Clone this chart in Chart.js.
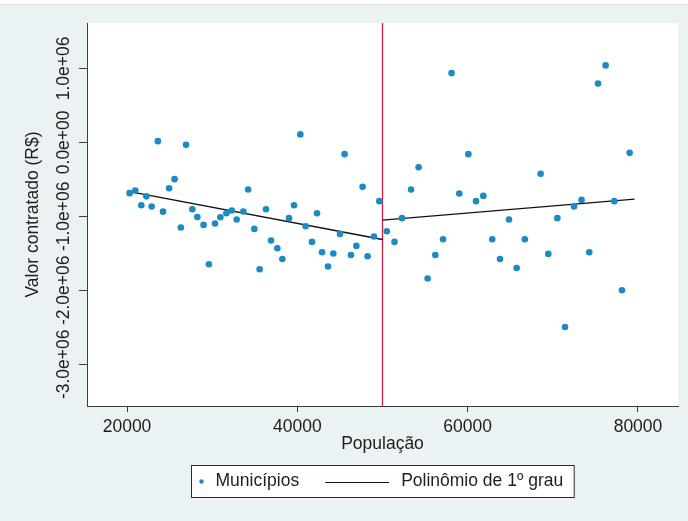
<!DOCTYPE html>
<html>
<head>
<meta charset="utf-8">
<script src="https://cdn.jsdelivr.net/npm/chart.js@4/dist/chart.umd.min.js"></script>
<style>
  html, body { margin: 0; padding: 0; background: #eaf2f3; overflow: hidden; }
  canvas { display: block; }
</style>
</head>
<body>
<canvas id="c" width="688" height="521"></canvas>
<script>
// Municipalities below the 50 000 inhabitant threshold
const popLeft = [20300, 20970, 21680, 22270, 22890, 23620, 24230, 24940, 25580, 26320,
  26930, 27670, 28260, 28990, 29610, 30330, 30960, 31670, 32310, 32870,
  33660, 34220, 34950, 35570, 36320, 36910, 37650, 38240, 39020, 39610,
  40350, 40970, 41720, 42310, 42900, 43600, 44220, 45010, 45550, 46300,
  46930, 47660, 48250, 49000, 49630];
const valLeft = [-687000, -651000, -850000, -730000, -867000, 16000, -937000, -620000, -498000, -1151000,
  -34000, -904000, -1009000, -1116000, -1648000, -1097000, -1012000, -958000, -921000, -1043000,
  -935000, -637000, -1170000, -1715000, -904000, -1327000, -1431000, -1576000, -1025000, -850000,
  107000, -1134000, -1346000, -958000, -1485000, -1679000, -1503000, -1238000, -160000, -1522000,
  -1400000, -602000, -1540000, -1273000, -795000];

// Municipalities above the threshold
const popRight = [50510, 51410, 52290, 53350, 54240, 55300, 56200, 57110, 58110, 59020,
  60080, 60980, 61840, 62890, 63800, 64850, 65750, 66710, 68570, 69470,
  70530, 71430, 72490, 73370, 74280, 75310, 76200, 77220, 78120, 79020];
const valRight = [-1201000, -1346000, -1025000, -637000, -336000, -1841000, -1522000, -1310000, 936000, -691000,
  -160000, -795000, -724000, -1310000, -1576000, -1043000, -1698000, -1310000, -426000, -1508000,
  -1025000, -2496000, -867000, -778000, -1485000, 794000, 1040000, -795000, -1999000, -142000];

// Linear fits on each side of the threshold (end points)
const fitLeftX = [20000, 50000];
const fitLeftY = [-660000, -1314000];
const fitRightX = [50000, 79600];
const fitRightY = [-1052000, -768000];

const cutoff = 50000;

const xTicks = [20000, 40000, 60000, 80000];
const yTicks = [-3000000, -2000000, -1000000, 0, 1000000];
const yTickLabels = ['-3.0e+06', '-2.0e+06', '-1.0e+06', '0.0e+00', '1.0e+06'];

const X_MIN = 15300, X_MAX = 84700;
const Y_MIN = -3564000, Y_MAX = 1613000;

const FONT_FAMILY = '"Liberation Sans", Arial, sans-serif';
const FONT_SIZE = 17.5;
const TEXT_COLOR = '#1e1e1e';
const AXIS_COLOR = '#3c3c3c';
const DOT_COLOR = '#1a8bc4';

const pts = (xs, ys) => xs.map((x, i) => ({ x: x, y: ys[i] }));

const backdrop = {
  id: 'backdrop',
  beforeDraw(chart) {
    const { ctx, chartArea: a, width, height } = chart;
    ctx.save();
    ctx.fillStyle = '#eaf2f3';
    ctx.fillRect(0, 0, width, height);
    ctx.fillStyle = '#ffffff';
    ctx.fillRect(0, 0, width, 4);
    ctx.fillStyle = '#d9e0e3';
    ctx.fillRect(0, 4, width, 1);
    ctx.fillStyle = '#ffffff';
    ctx.fillRect(a.left, a.top, a.right - a.left, a.bottom - a.top);
    ctx.restore();
  }
};

const extras = {
  id: 'extras',
  afterDraw(chart) {
    const { ctx, chartArea: a } = chart;
    const ys = chart.scales.y;
    ctx.save();
    ctx.font = FONT_SIZE + 'px ' + FONT_FAMILY;
    ctx.fillStyle = TEXT_COLOR;
    // vertical tick labels on the value axis
    ctx.textAlign = 'center';
    ctx.textBaseline = 'middle';
    ys.ticks.forEach(t => {
      const py = ys.getPixelForValue(t.value);
      ctx.save();
      ctx.translate(64, py);
      ctx.rotate(-Math.PI / 2);
      ctx.fillText(t.label, 0, 0);
      ctx.restore();
    });

    // legend box
    const t1 = 'Municípios', t2 = 'Polinômio de 1º grau';
    const w1 = ctx.measureText(t1).width, w2 = ctx.measureText(t2).width;
    const boxW = 24 + w1 + 26 + 64 + 12 + w2 + 11;
    const boxH = 32;
    const bx = Math.round((a.left + a.right) / 2 - boxW / 2) + 0.5;
    const by = 465.5;
    const cy = by + boxH / 2;
    ctx.fillStyle = '#ffffff';
    ctx.fillRect(bx, by, boxW, boxH);
    ctx.strokeStyle = '#2a2a2a';
    ctx.lineWidth = 1;
    ctx.strokeRect(bx, by, boxW, boxH);
    ctx.fillStyle = DOT_COLOR;
    ctx.beginPath();
    ctx.arc(bx + 10, cy, 2.2, 0, Math.PI * 2);
    ctx.fill();
    ctx.fillStyle = TEXT_COLOR;
    ctx.textAlign = 'left';
    ctx.fillText(t1, bx + 24, cy);
    const lx = bx + 24 + w1 + 26;
    ctx.strokeStyle = '#111111';
    ctx.beginPath();
    ctx.moveTo(lx, Math.round(cy) + 0.5);
    ctx.lineTo(lx + 64, Math.round(cy) + 0.5);
    ctx.stroke();
    ctx.fillText(t2, lx + 64 + 12, cy);
    ctx.restore();
  }
};

new Chart(document.getElementById('c'), {
  type: 'scatter',
  data: {
    datasets: [
      {
        label: 'Municípios',
        data: pts(popLeft.concat(popRight), valLeft.concat(valRight)),
        backgroundColor: DOT_COLOR,
        borderWidth: 0,
        pointRadius: 3.3,
        pointHoverRadius: 3.3,
        showLine: false
      },
      {
        label: 'Polinômio de 1º grau',
        data: pts(fitLeftX, fitLeftY),
        showLine: true,
        borderColor: '#111111',
        borderWidth: 1.4,
        pointRadius: 0
      },
      {
        label: 'Polinômio de 1º grau',
        data: pts(fitRightX, fitRightY),
        showLine: true,
        borderColor: '#111111',
        borderWidth: 1.4,
        pointRadius: 0
      },
      {
        label: 'corte',
        data: [{ x: cutoff, y: Y_MIN }, { x: cutoff, y: Y_MAX }],
        showLine: true,
        borderColor: '#cc1f45',
        borderWidth: 1.3,
        pointRadius: 0
      }
    ]
  },
  options: {
    responsive: false,
    animation: false,
    devicePixelRatio: 1,
    layout: { padding: { top: 23, right: 10, bottom: 51, left: 0 } },
    plugins: {
      legend: { display: false },
      tooltip: { enabled: false }
    },
    scales: {
      x: {
        type: 'linear',
        min: X_MIN,
        max: X_MAX,
        afterBuildTicks: s => { s.ticks = xTicks.map(v => ({ value: v })); },
        afterFit: s => { s.height = 64; },
        grid: { drawOnChartArea: false, drawTicks: true, tickLength: 6, color: AXIS_COLOR },
        border: { display: true, color: AXIS_COLOR, width: 1 },
        ticks: {
          padding: 5,
          color: TEXT_COLOR,
          font: { family: FONT_FAMILY, size: FONT_SIZE },
          callback: v => String(v)
        },
        title: {
          display: true,
          text: 'População',
          color: TEXT_COLOR,
          font: { family: FONT_FAMILY, size: FONT_SIZE },
          padding: { top: 0, bottom: 15 }
        }
      },
      y: {
        type: 'linear',
        min: Y_MIN,
        max: Y_MAX,
        afterBuildTicks: s => { s.ticks = yTicks.map(v => ({ value: v })); },
        afterFit: s => { s.width = 87; },
        grid: { drawOnChartArea: false, drawTicks: true, tickLength: 8, color: AXIS_COLOR },
        border: { display: true, color: AXIS_COLOR, width: 1 },
        ticks: {
          display: false,
          callback: v => yTickLabels[yTicks.indexOf(v)]
        },
        title: {
          display: true,
          text: 'Valor contratado (R$)',
          color: TEXT_COLOR,
          font: { family: FONT_FAMILY, size: FONT_SIZE },
          padding: { top: 23, bottom: 0 }
        }
      }
    }
  },
  plugins: [backdrop, extras]
});
</script>
</body>
</html>
